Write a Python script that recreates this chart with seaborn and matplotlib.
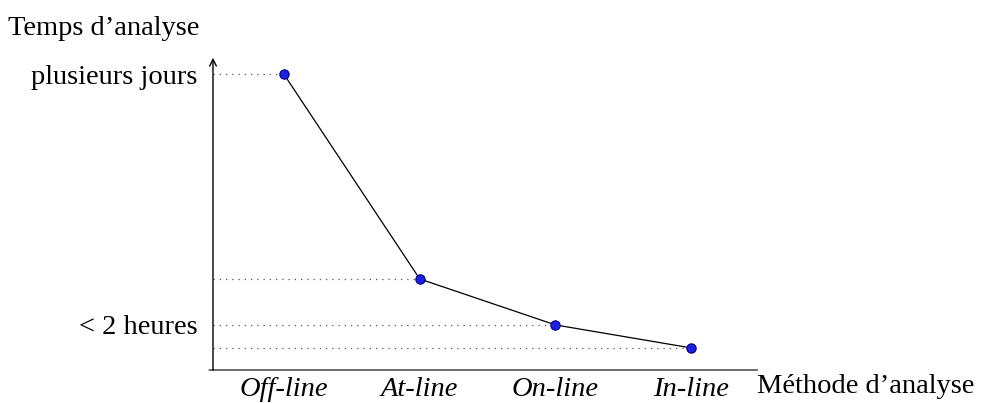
import numpy as np
import pandas as pd
import seaborn as sns
import matplotlib.pyplot as plt

methodes = ['Off-line', 'At-line', 'On-line', 'In-line']
temps = [12.9, 4.0, 2.0, 1.0]
ytick_vals = [12.9, 2.0]
ytick_labels = ['plusieurs jours', '< 2 heures']

sns.set_style('white')
plt.rcParams['font.family'] = ['Liberation Serif', 'DejaVu Serif']
plt.rcParams['text.color'] = 'black'
plt.rcParams['xtick.color'] = 'black'
plt.rcParams['ytick.color'] = 'black'

df = pd.DataFrame({'pos': np.arange(len(methodes)), 'temps': temps})

fig = plt.figure(figsize=(9.93, 4.03), dpi=100)
ax = fig.add_axes([0.2145, 0.0819, 0.551, 0.7816])

# pointillés horizontaux jusqu'à l'axe
for x, y in zip(df['pos'], df['temps']):
    ax.plot([-0.523, x], [y, y], color='#555555', lw=0.9, ls=(0, (1, 4)), zorder=1)

sns.lineplot(data=df, x='pos', y='temps', color='black', lw=0.9, ax=ax, zorder=2)
sns.scatterplot(data=df, x='pos', y='temps', color='#1f1fe6', edgecolor='#000080',
                s=45, linewidth=0.8, ax=ax, zorder=3)

ax.set_xlim(-0.523, 3.508)
ax.set_ylim(0.04, 13.74)
for s in ax.spines.values():
    s.set_visible(False)

ax.set_xticks(df['pos'])
ax.set_xticklabels(methodes, fontstyle='italic', fontsize=20.5)
ax.set_yticks(ytick_vals)
ax.set_yticklabels(ytick_labels, fontsize=20.5)
ax.tick_params(axis='both', length=0)
ax.tick_params(axis='y', pad=11)
ax.tick_params(axis='x', pad=5)
ax.set_xlabel('')
ax.set_ylabel('')

# axes avec flèche
ax.annotate('', xy=(-0.012, 0), xytext=(1.0, 0), xycoords='axes fraction',
            arrowprops=dict(arrowstyle='-', color='#555555', lw=1.2))
ax.annotate('', xy=(0, 1.0), xytext=(0, -0.01), xycoords='axes fraction',
            arrowprops=dict(arrowstyle='->', color='black', lw=1.0, mutation_scale=12))

fig.text(0.008, 0.93, 'Temps d\u2019analyse', fontsize=20.5, va='center', ha='left')
fig.text(0.762, 0.04, 'Méthode d\u2019analyse', fontsize=20.5, va='center', ha='left')

fig.savefig('out.png', dpi=100)
